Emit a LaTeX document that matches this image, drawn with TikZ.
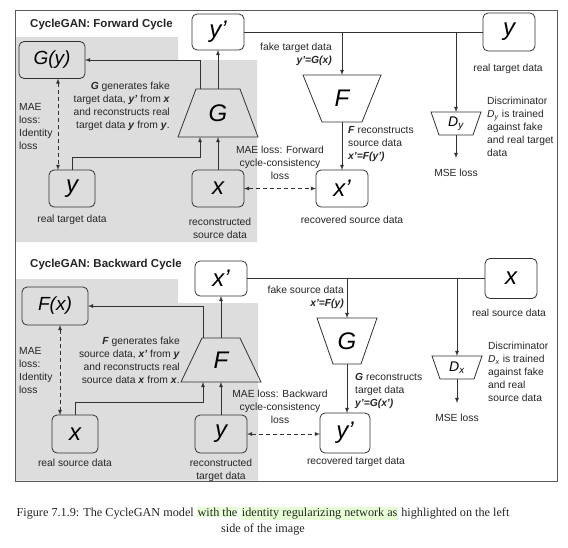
\documentclass[tikz,border=0pt]{standalone}
\usepackage{fontspec}
\setmainfont{Liberation Sans}
\newfontfamily\capfont{Liberation Serif}
\usepackage{xcolor}
\usetikzlibrary{calc}
\usetikzlibrary{arrows,positioning}

\definecolor{idgray}{RGB}{221,221,221}
\definecolor{inkgray}{RGB}{50,50,50}
\definecolor{framegray}{RGB}{90,90,90}
\definecolor{hlgreen}{RGB}{230,255,212}

\newcommand{\lblfont}{\fontsize{10.3}{13}\selectfont}
\newcommand{\titlefont}{\fontsize{11.5}{13}\selectfont\bfseries}
\newcommand{\letterfont}{\fontsize{24}{24}\selectfont\itshape}
\newcommand{\funcfont}{\fontsize{19}{19}\selectfont\itshape}
\newcommand{\discfont}{\fontsize{14}{14}\selectfont\itshape}
\newcommand{\bi}[1]{\textbf{\textit{#1}}}
\newcommand{\hlgr}[1]{{\setlength{\fboxsep}{0.8pt}\colorbox{hlgreen}{#1}}}

% trapezoids drawn over a named net node
\newcommand{\trapdown}[2]{\draw[netline] (#1.north west) -- (#1.north east) -- ([xshift=-#2]#1.south east) -- ([xshift=#2]#1.south west) -- cycle;}
\newcommand{\trapup}[2]{\draw[netline] (#1.south west) -- (#1.south east) -- ([xshift=-#2]#1.north east) -- ([xshift=#2]#1.north west) -- cycle;}

\tikzset{
  databox/.style={draw=inkgray, line width=0.8pt, rounded corners=5pt, minimum width=52pt, minimum height=36pt, inner sep=0pt, outer sep=0pt, font=\letterfont},
  funcbox/.style={databox, minimum width=66pt, minimum height=37pt, font=\funcfont},
  net/.style={minimum height=46pt, inner sep=0pt, outer sep=0pt, font=\letterfont},
  disc/.style={minimum width=50pt, minimum height=23pt, inner sep=0pt, outer sep=0pt, font=\discfont},
  netline/.style={draw=inkgray, line width=0.8pt},
  lbl/.style={font=\lblfont, inner sep=0pt, text=black!85},
  flow/.style={-latex, draw=inkgray, line width=0.8pt},
  lossflow/.style={latex-latex, draw=inkgray, line width=0.8pt, dash pattern=on 4pt off 3pt},
}

\begin{document}
\begin{tikzpicture}[x=1pt,y=-1pt]
	\fill[white] (0,0) rectangle (568,547);
	\useasboundingbox (0,0) rectangle (568,547);
	% identity parts
	\fill[idgray] (16,37) -- (178,37) -- (178,60) -- (257,60) -- (257,242) -- (16,242) -- cycle;
	\fill[idgray] (16,279) -- (178,279) -- (178,303) -- (258,303) -- (258,480.6) -- (16,480.6) -- cycle;
	\draw[framegray, line width=0.7pt] (15,10) rectangle (557,481);

	% forward cycle
	\node[lbl, font=\titlefont, anchor=west] (title1) at (30,25) {CycleGAN: Forward Cycle};
	\node[funcbox] (Gy) at (52,60) {G(y)};
	\node[databox] (yp) at (218,32) {y’};
	\node[databox, minimum height=38pt] (yreal) at (509,32) {y};
	\node[net, minimum width=80pt, minimum height=48pt] (Gf) at (218,113) {G};
	\trapup{Gf}{18pt}
	\node[net, minimum width=78pt, minimum height=47pt] (Ff) at (342,98.5) {F};
	\trapdown{Ff}{19pt}
	\node[disc] (Dy) at (456,123.5) {D\textsubscript{y}};
	\trapdown{Dy}{8pt}
	\node[databox, minimum width=46pt, minimum height=37pt] (yr) at (72,188.5) {y};
	\node[databox, minimum height=37pt] (xr) at (218,188.5) {x};
	\node[databox, minimum height=37pt] (xp) at (342,188.5) {x’};
	\node[lbl] (mse1) at (456,173) {MSE loss};

	\draw[flow] (Gf.north) -- (yp.south);
	\draw[flow] ([xshift=-18pt]Gf.north) |- (Gy.east);
	\draw[flow] (xr.north) -- (Gf.south);
	\draw[flow] (yr.north) |- ([xshift=-18pt,yshift=-20pt]Gf.south) -- ([xshift=-18pt]Gf.south);
	\draw[lossflow] ([xshift=6pt]Gy.south) -- ([xshift=6pt]Gy.south |- yr.north);
	\draw[lossflow] (xr.east) -- (xp.west);
	\draw[netline] (yp.east) -- (yreal.west);
	\draw[flow] (Ff.north |- yp.east) -- (Ff.north);
	\draw[flow] (Dy.north |- yp.east) -- (Dy.north);
	\draw[flow] (Ff.south) -- (xp.north);
	\draw[flow, shorten >=11pt] (Dy.south) -- (mse1.north);

	\node[lbl, anchor=east, align=right] at (170,106.5) {\bi{G} generates fake\\ target data, \bi{y’} from \bi{x}\\ and reconstructs real\\ target data \bi{y} from \bi{y}.};
	\node[lbl, anchor=west, align=left] at (19,127) {MAE\\ loss:\\ Identity\\ loss};
	\node[lbl] at (72,220) {real target data};
	\node[lbl, align=center] at (220,228.5) {reconstructed\\ source data};
	\node[lbl, anchor=east, align=right] at (332,54) {fake target data\\ \bi{y’=G(x)}};
	\node[lbl, anchor=west, align=left] at (348,144) {\bi{F} reconstructs\\ source data\\ \bi{x’=F(y’)}};
	\node[lbl, align=center] at (280,163) {MAE loss: Forward\\ cycle-consistency\\ loss};
	\node[lbl] at (352,220) {recovered source data};
	\node[lbl] at (508,69) {real target data};
	\node[lbl, anchor=west, align=left] at (487,127) {Discriminator\\ \textit{D}\textsubscript{\textit{y}} is trained\\ against fake\\ and real target\\ data};

	% backward cycle
	\node[lbl, font=\titlefont, anchor=west] (title2) at (30,265) {CycleGAN: Backward Cycle};
	\node[funcbox, minimum height=38pt] (Fx) at (55,306) {F(x)};
	\node[databox, minimum height=35pt] (xpb) at (221,278.5) {x’};
	\node[databox, minimum height=40pt] (xreal) at (511,278.5) {x};
	\node[net, minimum width=80pt, minimum height=44pt] (Fb) at (221,360) {F};
	\trapup{Fb}{21pt}
	\node[net, minimum width=60pt, minimum height=46pt] (Gb) at (347,341) {G};
	\trapdown{Gb}{16pt}
	\node[disc] (Dx) at (457,367.5) {D\textsubscript{x}};
	\trapdown{Dx}{8pt}
	\node[databox, minimum width=46pt, minimum height=38pt] (xrb) at (75,434) {x};
	\node[databox, minimum height=38pt] (yrb) at (221,434) {y};
	\node[databox, minimum width=50pt, minimum height=40pt] (ypb) at (345,433) {y’};
	\node[lbl] (mse2) at (457,418) {MSE loss};

	\draw[flow] (Fb.north) -- (xpb.south);
	\draw[flow] ([xshift=-18pt]Fb.north) |- (Fx.east);
	\draw[flow] (yrb.north) -- (Fb.south);
	\draw[flow] (xrb.north) |- ([xshift=-18pt,yshift=-20pt]Fb.south) -- ([xshift=-18pt]Fb.south);
	\draw[lossflow] ([xshift=5pt]Fx.south) -- ([xshift=5pt]Fx.south |- xrb.north);
	\draw[lossflow] (yrb.east) -- (ypb.west |- yrb.east);
	\draw[netline] (xpb.east) -- (xreal.west);
	\draw[flow] (Gb.north |- xpb.east) -- (Gb.north);
	\draw[flow] (Dx.north |- xpb.east) -- (Dx.north);
	\draw[flow] (Gb.south) -- (Gb.south |- ypb.north);
	\draw[flow, shorten >=11pt] (Dx.south) -- (mse2.north);

	\node[lbl, anchor=east, align=right] at (180,360) {\bi{F} generates fake\\ source data, \bi{x’} from \bi{y}\\ and reconstructs real\\ source data \bi{x} from \bi{x}.};
	\node[lbl, anchor=west, align=left] at (19,370) {MAE\\ loss:\\ Identity\\ loss};
	\node[lbl] at (75,463) {real source data};
	\node[lbl, align=center] at (221,470) {reconstructed\\ target data};
	\node[lbl, anchor=east, align=right] at (344,297.5) {fake source data\\ \bi{x’=F(y)}};
	\node[lbl, anchor=west, align=left] at (355,391) {\bi{G} reconstructs\\ target data\\ \bi{y’=G(x’)}};
	\node[lbl, align=center] at (280,407) {MAE loss: Backward\\ cycle-consistency\\ loss};
	\node[lbl] at (356,462) {recovered target data};
	\node[lbl] at (509,313) {real source data};
	\node[lbl, anchor=west, align=left] at (488,372) {Discriminator\\ \textit{D}\textsubscript{\textit{x}} is trained\\ against fake\\ and real\\ source data};

	% caption
	\node[font=\capfont\fontsize{12.2}{16}\selectfont, align=center, inner sep=0pt, text=black!85] (cap) at (263,521) {Figure 7.1.9: The CycleGAN model \hlgr{with the} \hlgr{identity regularizing network as} highlighted on the left\\ side of the image};
\end{tikzpicture}
\end{document}
